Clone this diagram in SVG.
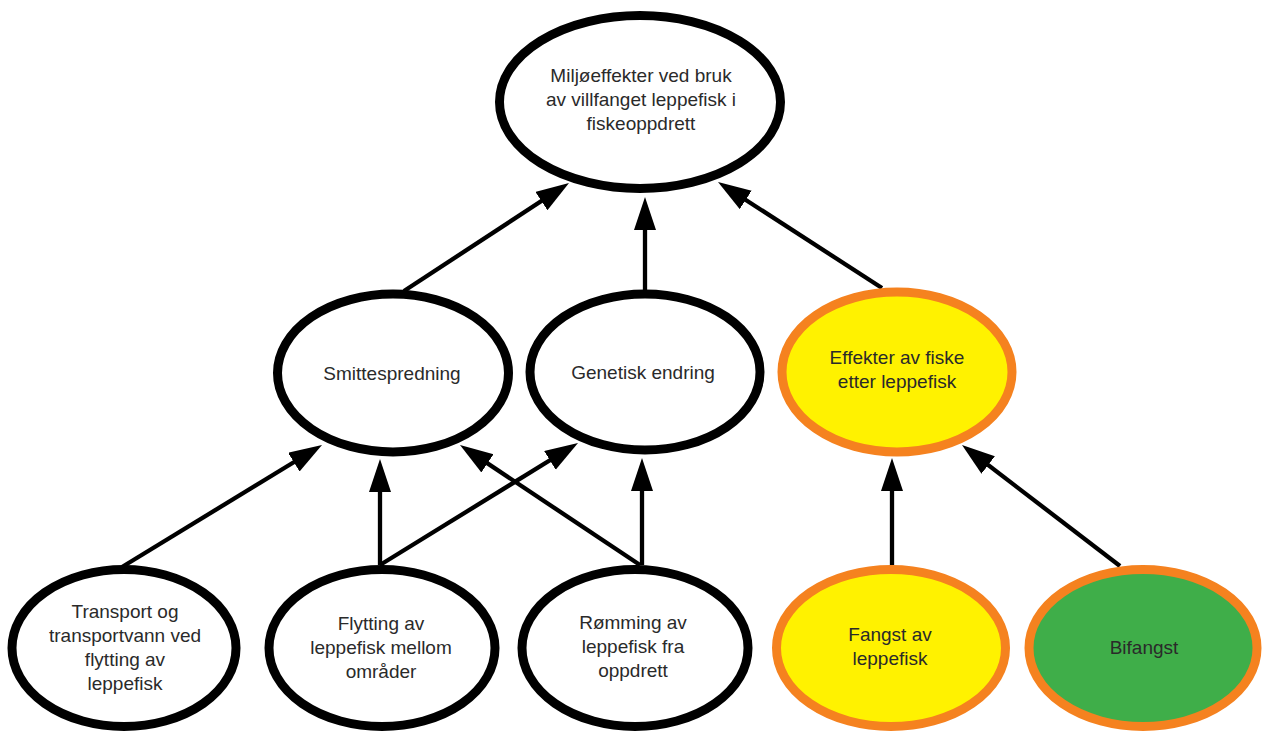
<svg xmlns="http://www.w3.org/2000/svg" width="1263" height="731" viewBox="0 0 1263 731">
  <style>
    .n { fill: #ffffff; stroke: #000000; stroke-width: 9; }
    .y { fill: #fff200; stroke: #f5821f; stroke-width: 9; }
    .g { fill: #3fae49; stroke: #f5821f; stroke-width: 9; }
    .t { font-family: "Liberation Sans", Arial, sans-serif; font-size: 19px; fill: #2a2a2a; text-anchor: middle; }
    .c { stroke: #000000; stroke-width: 4.3; fill: none; marker-end: url(#ah); }
  </style>
  <defs>
    <marker id="ah" markerUnits="userSpaceOnUse" markerWidth="34" markerHeight="24" viewBox="0 0 34 24" refX="21" refY="11" orient="auto">
      <path d="M0,0 L33,11 L0,22 Z" fill="#000000"/>
    </marker>
  </defs>
  <rect width="1263" height="731" fill="#ffffff"/>

  <g id="connectors">
    <line class="c" x1="404" y1="291" x2="558.96" y2="189.57"/>
    <line class="c" x1="645" y1="290" x2="645" y2="209"/>
    <line class="c" x1="882" y1="288" x2="728.08" y2="188.51"/>
    <line class="c" x1="122" y1="567" x2="311.76" y2="451.25"/>
    <line class="c" x1="380" y1="565" x2="380" y2="471"/>
    <line class="c" x1="380" y1="565" x2="567.78" y2="449.29"/>
    <line class="c" x1="640" y1="565" x2="469.98" y2="451.66"/>
    <line class="c" x1="642" y1="565" x2="642" y2="470"/>
    <line class="c" x1="892" y1="565" x2="892" y2="470"/>
    <line class="c" x1="1120" y1="566" x2="971.53" y2="452.30"/>
  </g>

  <g id="node-miljoeffekter">
    <ellipse class="n" cx="640" cy="102" rx="140.5" ry="86.5"/>
    <text class="t" x="641" y="82">Miljøeffekter ved bruk</text>
    <text class="t" x="641" y="106">av villfanget leppefisk i</text>
    <text class="t" x="641" y="130">fiskeoppdrett</text>
  </g>

  <g id="node-smittespredning">
    <ellipse class="n" cx="393" cy="373" rx="115.5" ry="79"/>
    <text class="t" x="392" y="380">Smittespredning</text>
  </g>

  <g id="node-genetisk">
    <ellipse class="n" cx="645" cy="372" rx="115" ry="78"/>
    <text class="t" x="643" y="379">Genetisk endring</text>
  </g>

  <g id="node-effekter">
    <ellipse class="y" cx="897" cy="372" rx="115" ry="80"/>
    <text class="t" x="897" y="364">Effekter av fiske</text>
    <text class="t" x="897" y="388">etter leppefisk</text>
  </g>

  <g id="node-transport">
    <ellipse class="n" cx="124" cy="648" rx="112" ry="78.5"/>
    <text class="t" x="125" y="618">Transport og</text>
    <text class="t" x="125" y="642">transportvann ved</text>
    <text class="t" x="125" y="666">flytting av</text>
    <text class="t" x="125" y="690">leppefisk</text>
  </g>

  <g id="node-flytting">
    <ellipse class="n" cx="382" cy="648" rx="113" ry="78.5"/>
    <text class="t" x="381" y="630">Flytting av</text>
    <text class="t" x="381" y="654">leppefisk mellom</text>
    <text class="t" x="381" y="678">områder</text>
  </g>

  <g id="node-romming">
    <ellipse class="n" cx="635" cy="648" rx="113" ry="78.5"/>
    <text class="t" x="633" y="629">Rømming av</text>
    <text class="t" x="633" y="653">leppefisk fra</text>
    <text class="t" x="633" y="677">oppdrett</text>
  </g>

  <g id="node-fangst">
    <ellipse class="y" cx="891" cy="648" rx="114.5" ry="78.5"/>
    <text class="t" x="890" y="641">Fangst av</text>
    <text class="t" x="890" y="665">leppefisk</text>
  </g>

  <g id="node-bifangst">
    <ellipse class="g" cx="1143" cy="648" rx="114" ry="78.5"/>
    <text class="t" x="1144" y="654">Bifangst</text>
  </g>
</svg>
